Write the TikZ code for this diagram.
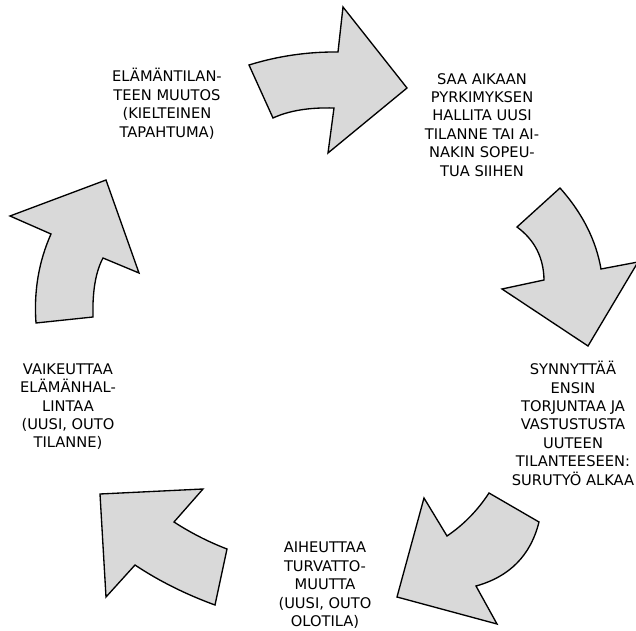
\documentclass[tikz,border=0pt]{standalone}
\usepackage{fontspec}
\setmainfont{DejaVu Sans}
\definecolor{arrowgray}{HTML}{D9D9D9}
\begin{document}
\begin{tikzpicture}[x=0.75pt,y=-0.75pt,
  blockarrow/.style={draw=black,fill=arrowgray,line width=1pt,line join=miter},
  stage/.style={align=center,inner sep=0pt,font=\fontsize{11pt}{13.8pt}\selectfont}]
\useasboundingbox (0,0) rectangle (636,631);
\begin{scope}
\clip (0,0) rectangle (636,631);
% curved block arrows running clockwise round the cycle
\draw[blockarrow] (249,65) .. controls (278,56) and (307.7,51.7) .. (338,52) -- (343,7) -- (407,88)
  -- (328,153) -- (334,108) .. controls (309,107.3) and (288.7,110.7) .. (273,118) -- cycle;
\draw[blockarrow] (517,227) -- (560,188) .. controls (582.3,213) and (596,240) .. (601,269) -- (638,262)
  -- (588,346) -- (502,289) -- (544,280) .. controls (543.7,257.7) and (534.7,240) .. (517,227) -- cycle;
\draw[blockarrow] (489,493) -- (539,522) .. controls (530.7,555.3) and (509.7,576.7) .. (476,586) -- (497,624)
  -- (397,597) -- (424,498) -- (447,536) .. controls (463.7,524.7) and (477.7,510.3) .. (489,493) -- cycle;
\draw[blockarrow] (227,549) -- (215,605) .. controls (185.7,594.3) and (159,581) .. (135,565) -- (106,597)
  -- (100,494) -- (203,489) -- (174,522) .. controls (191,533) and (208.7,542) .. (227,549) -- cycle;
\draw[blockarrow] (36,323) -- (93,317) .. controls (92.3,291.3) and (95.7,271.7) .. (103,258) -- (139,273)
  -- (106,180) -- (10,216) -- (51,234) .. controls (38.7,261.7) and (33.7,291.3) .. (36,323) -- cycle;
\end{scope}
% stages of the cycle
\node[stage] (change) at (167,103.7) {ELÄMÄNTILAN-\\TEEN MUUTOS\\(KIELTEINEN\\TAPAHTUMA)};
\node[stage] (adapt) at (482,124.7) {SAA AIKAAN\\PYRKIMYKSEN\\HALLITA UUSI\\TILANNE TAI AI-\\NAKIN SOPEU-\\TUA SIIHEN};
\node[stage] (resist) at (573,423.3) {SYNNYTTÄÄ\\ENSIN\\TORJUNTAA JA\\VASTUSTUSTA\\UUTEEN\\TILANTEESEEN:\\SURUTYÖ ALKAA};
\node[stage] (insecure) at (325,585.3) {AIHEUTTAA\\TURVATTO-\\MUUTTA\\(UUSI, OUTO\\OLOTILA)};
\node[stage] (control) at (68,406.7) {VAIKEUTTAA\\ELÄMÄNHAL-\\LINTAA\\(UUSI, OUTO\\TILANNE)};
\end{tikzpicture}
\end{document}
